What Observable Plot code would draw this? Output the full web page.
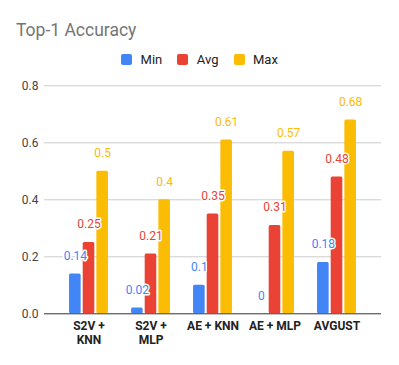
<!DOCTYPE html>
<html>
<head>
<meta charset="utf-8">
<script src="https://cdn.jsdelivr.net/npm/d3@7"></script>
<script src="https://cdn.jsdelivr.net/npm/@observablehq/plot@0.6"></script>
<style>
  html, body { margin: 0; padding: 0; background: #fff; }
  body { width: 399px; height: 365px; overflow: hidden; font-family: Roboto, Arial, sans-serif; }
  #header { position: relative; height: 72px; }
  #title { position: absolute; left: 16px; top: 22px; font-size: 17.5px; line-height: 17.5px; color: #757575; white-space: nowrap; }
  #legend { position: absolute; left: 0; width: 399px; top: 54px; height: 11px; display: flex; justify-content: center; align-items: center; font-size: 13px; line-height: 13px; color: #222; }
  .item { display: flex; align-items: center; margin: 0 7.5px; }
  .sw { width: 11px; height: 11px; border-radius: 2px; margin-right: 8.5px; }
  #chart svg { display: block; }
</style>
</head>
<body>
<div id="header">
  <div id="title"></div>
  <div id="legend"></div>
</div>
<div id="chart"></div>
<script>
const titleText = "Top-1 Accuracy";
const categories = ["S2V + KNN", "S2V + MLP", "AE + KNN", "AE + MLP", "AVGUST"];
const tickLabels = ["S2V +\nKNN", "S2V +\nMLP", "AE + KNN", "AE + MLP", "AVGUST"];
const seriesNames = ["Min", "Avg", "Max"];
const seriesColors = ["#4285F4", "#EA4335", "#FBBC04"];
const minValues = [0.14, 0.02, 0.1, 0, 0.18];
const avgValues = [0.25, 0.21, 0.35, 0.31, 0.48];
const maxValues = [0.5, 0.4, 0.61, 0.57, 0.68];
const yTicks = [0, 0.2, 0.4, 0.6, 0.8];

document.getElementById("title").textContent = titleText;
const legend = document.getElementById("legend");
seriesNames.forEach((s, i) => {
  const it = document.createElement("div");
  it.className = "item";
  const sw = document.createElement("div");
  sw.className = "sw";
  sw.style.background = seriesColors[i];
  const tx = document.createElement("span");
  tx.textContent = s;
  it.appendChild(sw); it.appendChild(tx);
  legend.appendChild(it);
});

const seriesValues = [minValues, avgValues, maxValues];
const W = 399, H = 293, mL = 44, mR = 18, pad = 0.372;
const step = (W - mL - mR) / (categories.length - pad + 2 * pad);
const bw = step * (1 - pad);
const slot = 13.65, barW = 12;
const inset = (bw - barW) / 2;

const marks = [
  Plot.ruleY(yTicks.filter(d => d > 0), {stroke: "#cccccc", strokeWidth: 1}),
  Plot.axisY(yTicks, {tickSize: 0, tickPadding: 6, tickFormat: d3.format(".1f"), fontSize: 12, fill: "#444", label: null}),
  Plot.axisX({tickSize: 0, tickPadding: 7, fontSize: 12, fontWeight: "bold", fill: "#222", lineHeight: 1.12, lineAnchor: "top", tickFormat: d => tickLabels[categories.indexOf(d)], label: null})
];
seriesNames.forEach((s, i) => {
  const data = categories.map((c, j) => ({category: c, value: seriesValues[i][j]}));
  const dx = (i - 1) * slot;
  marks.push(Plot.barY(data, {x: "category", y: "value", fill: seriesColors[i], insetLeft: inset + dx, insetRight: inset - dx, rx: 1.5}));
});
marks.push(Plot.ruleY([0], {stroke: "#333", strokeWidth: 1}));
seriesNames.forEach((s, i) => {
  const data = categories.map((c, j) => ({category: c, value: seriesValues[i][j]}));
  const dx = (i - 1) * slot;
  marks.push(Plot.text(data, {x: "category", y: "value", text: d => String(d.value), dx, dy: -18, fill: seriesColors[i], stroke: "white", strokeWidth: 3, fontSize: 12}));
});

const chart = Plot.plot({
  width: W, height: H,
  marginLeft: mL, marginRight: mR, marginTop: 13.3, marginBottom: 51.7,
  style: {fontFamily: "Roboto, Arial, sans-serif", background: "#fff"},
  x: {domain: categories, padding: pad, axis: null},
  y: {domain: [0, 0.8], axis: null},
  marks
});
document.getElementById("chart").appendChild(chart);
</script>
</body>
</html>
